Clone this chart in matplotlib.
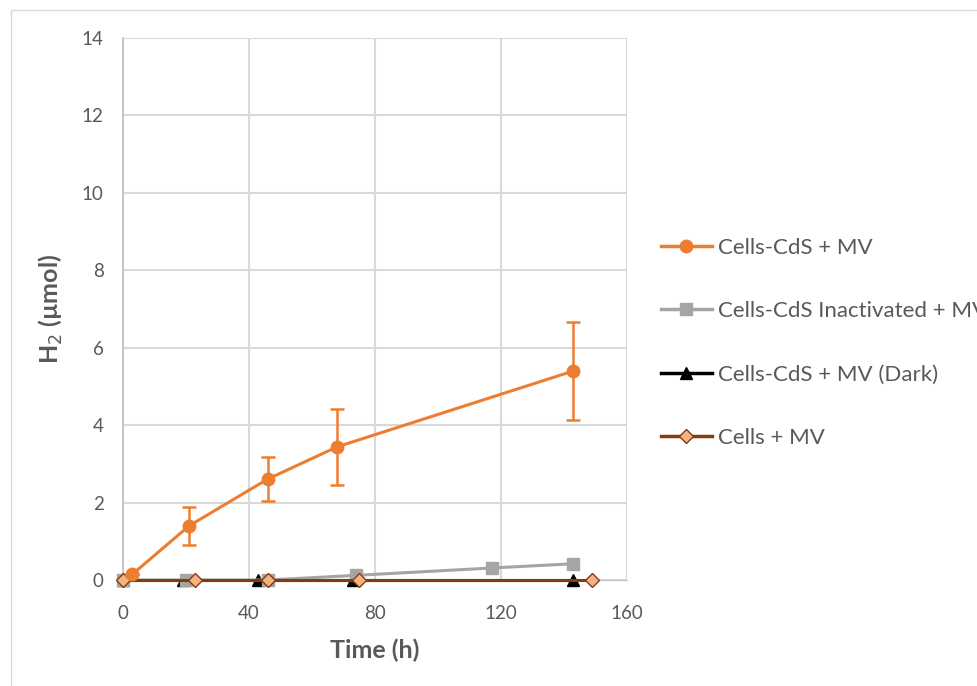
import matplotlib
matplotlib.use("Agg")
import matplotlib.pyplot as plt
from matplotlib.lines import Line2D
from matplotlib.patches import Rectangle

plt.rcParams["font.family"] = ["Lato", "DejaVu Sans"]

# Cells-CdS + MV
cds_t = [3, 21, 46, 68, 143]
cds_h2 = [0.15, 1.40, 2.61, 3.44, 5.40]
cds_err = [0.0, 0.49, 0.58, 0.98, 1.27]

# Cells-CdS inactivated + MV
inact_t = [0, 20, 46, 74, 117, 143]
inact_h2 = [0, 0, 0, 0.12, 0.31, 0.42]

# Cells-CdS + MV (dark)
dark_t = [0, 19, 43, 73, 143]
dark_h2 = [0, 0, 0, 0, 0]

# Cells + MV
cells_t = [0, 23, 46, 75, 149]
cells_h2 = [0, 0, 0, 0, 0]

x_ticks = [0, 40, 80, 120, 160]
y_ticks = [0, 2, 4, 6, 8, 10, 12, 14]

TEXT = "#595959"
GRID = "#D9D9D9"

fig = plt.figure(figsize=(9.78, 6.86), dpi=100)
fig.patches.append(Rectangle((0.011, -0.01), 1.0, 0.996, transform=fig.transFigure,
                             fill=False, edgecolor="#D9D9D9", linewidth=1))
ax = fig.add_axes([123 / 978, 1 - 580 / 686, (627 - 123) / 978, (580 - 38) / 686])

styles = {
    "Cells-CdS + MV": dict(color="#ED7D31", marker="o", markersize=9),
    "Cells-CdS Inactivated + MV": dict(color="#A5A5A5", marker="s", markersize=8),
    "Cells-CdS + MV (Dark)": dict(color="black", marker="^", markersize=8),
    "Cells + MV": dict(color="#843C0C", marker="D", markersize=7.5,
                       markerfacecolor="#F4B183", markeredgecolor="#843C0C",
                       markeredgewidth=1),
}

ax.plot(dark_t, dark_h2, linewidth=2.2, clip_on=False, zorder=3,
        **styles["Cells-CdS + MV (Dark)"])
ax.plot(inact_t, inact_h2, linewidth=2.2, clip_on=False, zorder=4,
        **styles["Cells-CdS Inactivated + MV"])
ax.plot(cells_t, cells_h2, linewidth=2.2, clip_on=False, zorder=5,
        **styles["Cells + MV"])
eb = ax.errorbar(cds_t, cds_h2, yerr=cds_err, linewidth=2.2, capsize=5,
                 elinewidth=1.8, capthick=1.8, zorder=6, **styles["Cells-CdS + MV"])
for art in eb.lines[0:1] + tuple(eb.lines[1]) + tuple(eb.lines[2]):
    art.set_clip_on(False)

ax.set_xlim(0, 160)
ax.set_ylim(0, 14)
ax.set_xticks(x_ticks)
ax.set_yticks(y_ticks)
ax.grid(True, color=GRID, linewidth=1.5)
ax.set_axisbelow(True)
for side in ["top", "right"]:
    ax.spines[side].set_visible(False)
ax.spines["left"].set_color("#BFBFBF")
ax.spines["bottom"].set_color("#BFBFBF")
ax.spines["left"].set_linewidth(1.2)
ax.tick_params(length=0, labelsize=13.5, labelcolor=TEXT)
ax.tick_params(axis="x", pad=18)
ax.tick_params(axis="y", pad=14)

ax.set_xlabel("Time (h)", fontsize=18, fontweight="bold", color=TEXT, labelpad=12)
ax.set_ylabel("H$_2$ (µmol)", fontsize=18, fontweight="bold", color=TEXT, labelpad=12)

order = ["Cells-CdS + MV", "Cells-CdS Inactivated + MV", "Cells-CdS + MV (Dark)", "Cells + MV"]
handles = [Line2D([], [], linewidth=2.5, **styles[k]) for k in order]
leg = fig.legend(handles, order, loc="upper left",
                 bbox_to_anchor=(652 / 978, 1 - 229 / 686), frameon=False,
                 fontsize=16, labelspacing=1.95, handlelength=2.3, handletextpad=0.25,
                 borderaxespad=0)
for t in leg.get_texts():
    t.set_color(TEXT)

fig.savefig("out.png", dpi=100)
